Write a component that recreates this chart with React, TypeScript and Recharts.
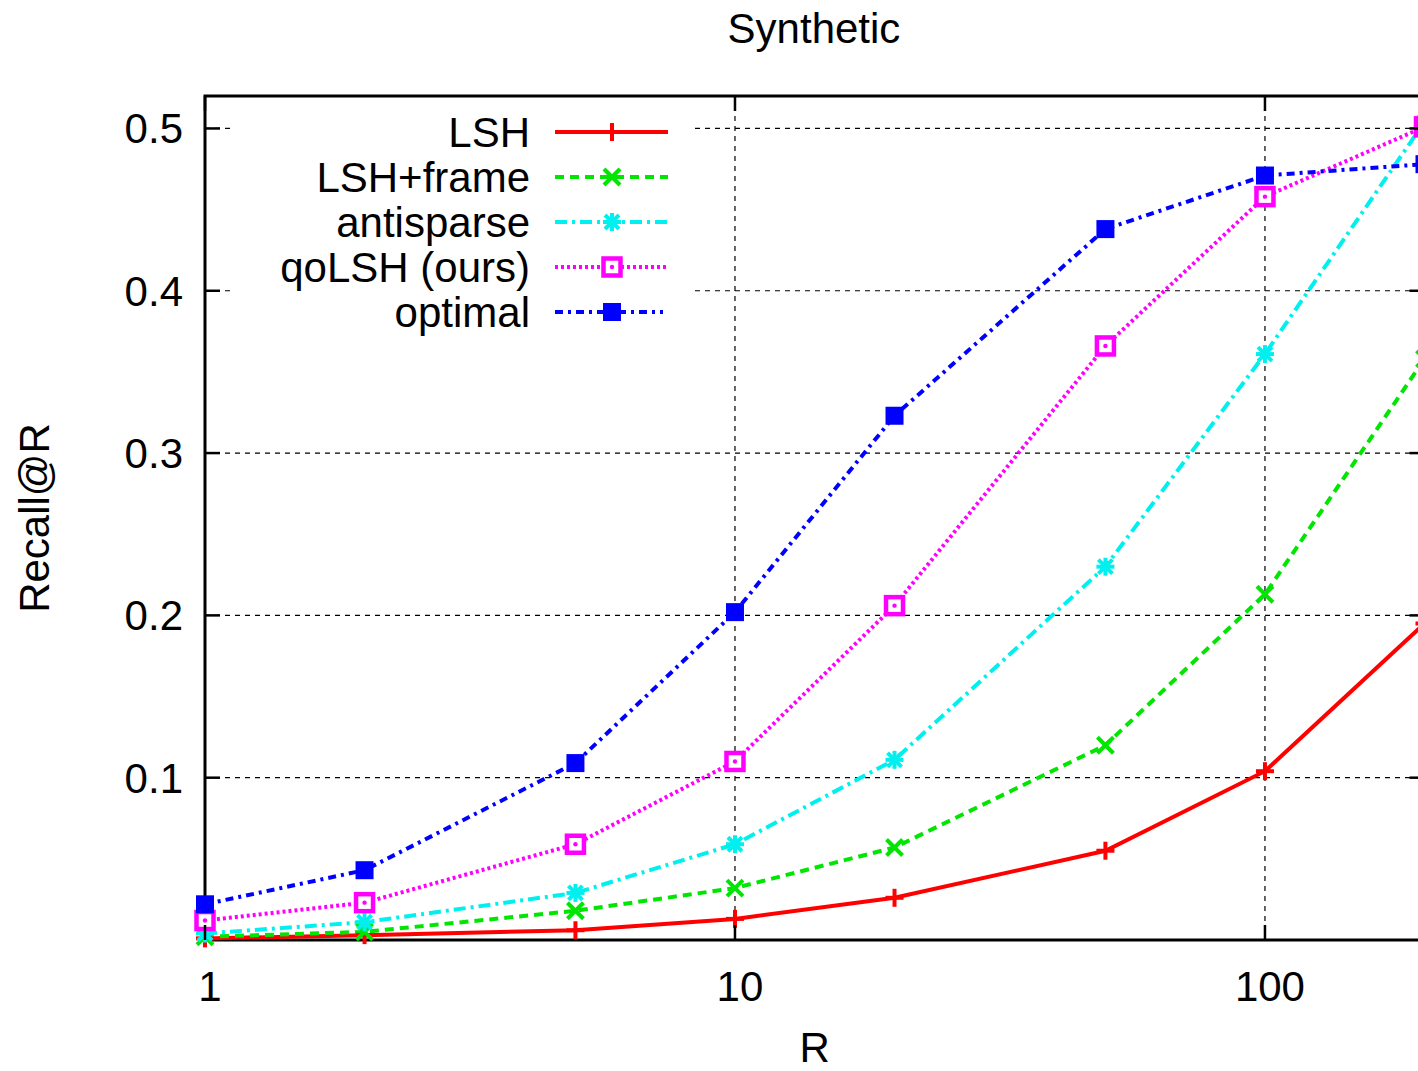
import React from "react";
import {
  CartesianGrid,
  Legend,
  Line,
  LineChart,
  ReferenceArea,
  XAxis,
  YAxis,
} from "recharts";

// values (Recall@R for each R)
const rValues = [1, 2, 5, 10, 20, 50, 100, 200];
const lsh = [0.001, 0.003, 0.006, 0.013, 0.026, 0.055, 0.104, 0.195];
const lshFrame = [0.002, 0.005, 0.018, 0.032, 0.057, 0.12, 0.213, 0.358];
const antisparse = [0.004, 0.011, 0.029, 0.059, 0.111, 0.23, 0.361, 0.504];
const qolsh = [0.012, 0.023, 0.059, 0.11, 0.206, 0.366, 0.458, 0.501];
const optimal = [0.022, 0.043, 0.109, 0.202, 0.323, 0.438, 0.471, 0.478];

const xTicks = [1, 10, 100];
const yTicks = [0.1, 0.2, 0.3, 0.4, 0.5];

const seriesNames = ["LSH", "LSH+frame", "antisparse", "qoLSH (ours)", "optimal"];

const data = rValues.map((r, i) => ({
  r,
  lsh: lsh[i],
  lshFrame: lshFrame[i],
  antisparse: antisparse[i],
  qolsh: qolsh[i],
  optimal: optimal[i],
}));

const series = [
  { key: "lsh", name: seriesNames[0], color: "#ff0000", dash: undefined, marker: "plus" },
  { key: "lshFrame", name: seriesNames[1], color: "#00e600", dash: "9 6", marker: "cross" },
  { key: "antisparse", name: seriesNames[2], color: "#00f0f0", dash: "12 5 3 5", marker: "star" },
  { key: "qolsh", name: seriesNames[3], color: "#ff00ff", dash: "3 3", marker: "box" },
  { key: "optimal", name: seriesNames[4], color: "#0000ff", dash: "8 5 3 5", marker: "filledBox" },
];

const FONT = "'Liberation Sans', Arial, Helvetica, sans-serif";
const FS = 42;
const W = 1440;
const H = 1071;
const TOP = 96;
const BOTTOM = 940;
const LEFT = 205;
const RIGHT = 1424.5;
const TICK = 15;
const LW = 4;

function marker(kind: string, cx: number, cy: number, color: string, key: string) {
  const sw = 4;
  const a = 9;
  if (kind === "plus") {
    return (
      <g key={key} stroke={color} strokeWidth={sw}>
        <line x1={cx - a} y1={cy} x2={cx + a} y2={cy} />
        <line x1={cx} y1={cy - a} x2={cx} y2={cy + a} />
      </g>
    );
  }
  if (kind === "cross") {
    return (
      <g key={key} stroke={color} strokeWidth={sw}>
        <line x1={cx - 8} y1={cy - 8} x2={cx + 8} y2={cy + 8} />
        <line x1={cx - 8} y1={cy + 8} x2={cx + 8} y2={cy - 8} />
      </g>
    );
  }
  if (kind === "star") {
    return (
      <g key={key} stroke={color} strokeWidth={sw}>
        <line x1={cx - a} y1={cy} x2={cx + a} y2={cy} />
        <line x1={cx} y1={cy - a} x2={cx} y2={cy + a} />
        <line x1={cx - 7} y1={cy - 7} x2={cx + 7} y2={cy + 7} />
        <line x1={cx - 7} y1={cy + 7} x2={cx + 7} y2={cy - 7} />
      </g>
    );
  }
  if (kind === "box") {
    return (
      <g key={key}>
        <rect x={cx - 8.5} y={cy - 8.5} width={17} height={17} fill="#fff" stroke={color} strokeWidth={4.5} />
        <circle cx={cx} cy={cy} r={2.2} fill={color} />
      </g>
    );
  }
  return <rect key={key} x={cx - 9} y={cy - 9} width={18} height={18} fill={color} />;
}

function XTick(props: any) {
  const { x, payload } = props;
  return (
    <g>
      <line x1={x} y1={BOTTOM} x2={x} y2={BOTTOM - TICK} stroke="#000" strokeWidth={2.5} />
      <line x1={x} y1={TOP} x2={x} y2={TOP + TICK} stroke="#000" strokeWidth={2.5} />
      <text x={x + 5} y={1001} textAnchor="middle" fontSize={FS} fill="#000">
        {payload.value}
      </text>
    </g>
  );
}

function YTick(props: any) {
  const { y, payload } = props;
  return (
    <g>
      <line x1={LEFT} y1={y} x2={LEFT + TICK} y2={y} stroke="#000" strokeWidth={2.5} />
      <line x1={RIGHT} y1={y} x2={RIGHT - TICK} y2={y} stroke="#000" strokeWidth={2.5} />
      <text x={183} y={y + 15} textAnchor="end" fontSize={FS} fill="#000">
        {payload.value.toFixed(1)}
      </text>
    </g>
  );
}

function KeyBox() {
  return (
    <svg width={460} height={240} style={{ display: "block", background: "#fff" }}>
      {series.map((s, i) => {
        const cy = 32 + i * 45;
        return (
          <g key={s.key}>
            <text x={300} y={cy + 15} textAnchor="end" fontSize={FS} fill="#000" fontFamily={FONT}>
              {s.name}
            </text>
            <line
              x1={325}
              y1={cy}
              x2={i === 4 ? 433 : 438}
              y2={cy}
              stroke={s.color}
              strokeWidth={LW}
              strokeDasharray={s.dash}
            />
            {marker(s.marker, 382, cy, s.color, "m" + i)}
          </g>
        );
      })}
    </svg>
  );
}

export default function App() {
  return (
    <div
      style={{
        position: "fixed",
        left: 0,
        top: 0,
        width: 1418,
        height: 1071,
        overflow: "hidden",
        background: "#fff",
        fontFamily: FONT,
      }}
    >
      <LineChart width={W} height={H} data={data} margin={{ top: TOP, right: W - RIGHT, bottom: 0, left: 0 }}>
        <CartesianGrid stroke="#000" strokeWidth={1.2} strokeDasharray="5 5" />
        <XAxis
          dataKey="r"
          type="number"
          scale="log"
          domain={[1, 200]}
          ticks={xTicks}
          interval={0}
          height={H - BOTTOM}
          axisLine={false}
          tickLine={false}
          tick={<XTick />}
          label={{ value: "R", position: "insideBottom", offset: 9, fontSize: FS, fill: "#000" }}
        />
        <YAxis
          type="number"
          domain={[0, 0.52]}
          ticks={yTicks}
          interval={0}
          width={LEFT}
          axisLine={false}
          tickLine={false}
          tick={<YTick />}
        />
        <ReferenceArea x1={1} x2={200} y1={0} y2={0.52} fill="none" stroke="#000" strokeWidth={3} />
        {series.map((s) => (
          <Line
            key={s.key}
            dataKey={s.key}
            name={s.name}
            type="linear"
            stroke={s.color}
            strokeWidth={LW}
            strokeDasharray={s.dash}
            isAnimationActive={false}
            activeDot={false}
            dot={(p: any) => marker(s.marker, p.cx, p.cy, s.color, `${s.key}-${p.index}`)}
          />
        ))}
        <Legend
          layout="vertical"
          align="center"
          verticalAlign="middle"
          wrapperStyle={{ left: 230, top: 100, width: 460, height: 240 }}
          content={() => <KeyBox />}
        />
      </LineChart>
      <svg
        width={1418}
        height={1071}
        style={{ position: "absolute", left: 0, top: 0, pointerEvents: "none" }}
      >
        <text x={814} y={43} textAnchor="middle" fontSize={FS} fill="#000">
          Synthetic
        </text>
        <text transform="translate(49 518) rotate(-90)" textAnchor="middle" fontSize={FS} fill="#000">
          Recall@R
        </text>
      </svg>
    </div>
  );
}
